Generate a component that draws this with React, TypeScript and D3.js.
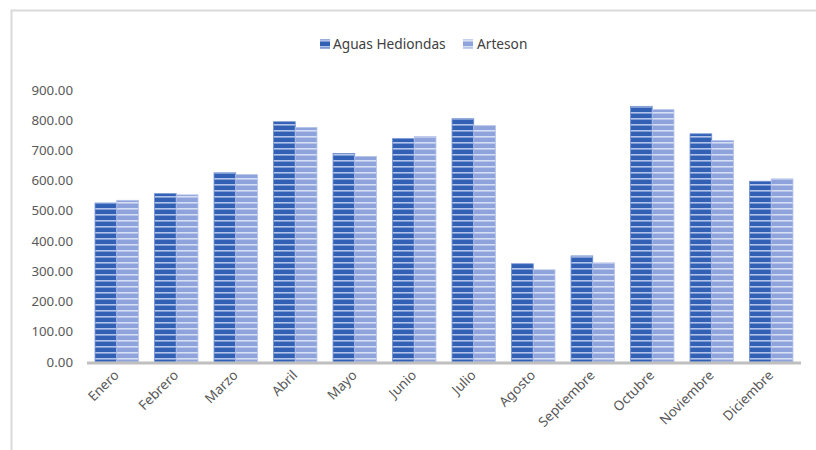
import React from "react";
import * as d3 from "d3";

const months = ["Enero","Febrero","Marzo","Abril","Mayo","Junio","Julio","Agosto","Septiembre","Octubre","Noviembre","Diciembre"];
const aguasHediondas = [526, 557, 626, 795, 690, 739, 805, 325, 351, 846, 755, 598];
const arteson = [535, 553, 620, 776, 680, 746, 782, 305, 328, 835, 733, 606];
const seriesNames = ["Aguas Hediondas", "Arteson"];
const yTicks = [0, 100, 200, 300, 400, 500, 600, 700, 800, 900];

const W = 816, H = 450;
const colors = ["#3160b5", "#8ea2dc"];
const stripeColors = ["#b3c4ea", "#d6def4"];

export default function App() {
  const x0 = d3.scaleBand<string>().domain(months).range([87, 801]).paddingInner(0.27).paddingOuter(0.135);
  const x1 = d3.scaleBand<string>().domain(seriesNames).range([0, x0.bandwidth()]).padding(0);
  const y = d3.scaleLinear().domain([0, 900]).range([362, 90]);
  const series = [aguasHediondas, arteson];
  const font = "'Noto Sans', sans-serif";
  return (
    <svg width={W} height={H} style={{ position: "absolute", left: 0, top: 0, background: "#fff" }}>
      <defs>
        {colors.map((c, i) => (
          <pattern key={i} id={`stripe${i}`} patternUnits="userSpaceOnUse" width={6} height={6}>
            <rect width={6} height={6} fill={c} />
            <rect y={4} width={6} height={1.6} fill={stripeColors[i]} />
          </pattern>
        ))}
      </defs>
      <rect x={0} y={0} width={W} height={H} fill="#fff" />
      <path d={`M11.5,${H} V10.5 H${W}`} fill="none" stroke="#d9d9d9" strokeWidth={2} />
      {/* legend */}
      <g fontFamily={font} fontSize={13.7} fill="#404040">
        <rect x={320} y={39.5} width={10} height={9} fill="url(#stripe0)" />
        <text x={333} y={49}>{seriesNames[0]}</text>
        <rect x={463} y={39.5} width={10} height={9} fill="url(#stripe1)" />
        <text x={477} y={49}>{seriesNames[1]}</text>
      </g>
      {/* y tick labels */}
      <g fontFamily={font} fontSize={13.3} fill="#595959" textAnchor="end">
        {yTicks.map((t) => (
          <text key={t} x={73} y={y(t) + 4.5}>{t.toFixed(2)}</text>
        ))}
      </g>
      {/* bars */}
      {months.map((m, mi) => (
        <g key={m} transform={`translate(${x0(m)},0)`}>
          {series.map((s, si) => (
            <rect
              key={si}
              x={x1(seriesNames[si])!}
              y={y(s[mi])}
              width={x1.bandwidth()}
              height={y(0) - y(s[mi])}
              fill={`url(#stripe${si})`}
              stroke={si === 0 ? "#6f8fd0" : "#b5c2ea"}
              strokeWidth={0.8}
            />
          ))}
        </g>
      ))}
      {/* x axis */}
      <line x1={87} x2={801} y1={363} y2={363} stroke="#bfbfbf" strokeWidth={3} />
      <g fontFamily={font} fontSize={13.5} fill="#595959">
        {months.map((m) => (
          <text key={m} textAnchor="end" transform={`translate(${x0(m)! + x0.bandwidth() / 2 + 3},376) rotate(-45)`}>{m}</text>
        ))}
      </g>
    </svg>
  );
}
